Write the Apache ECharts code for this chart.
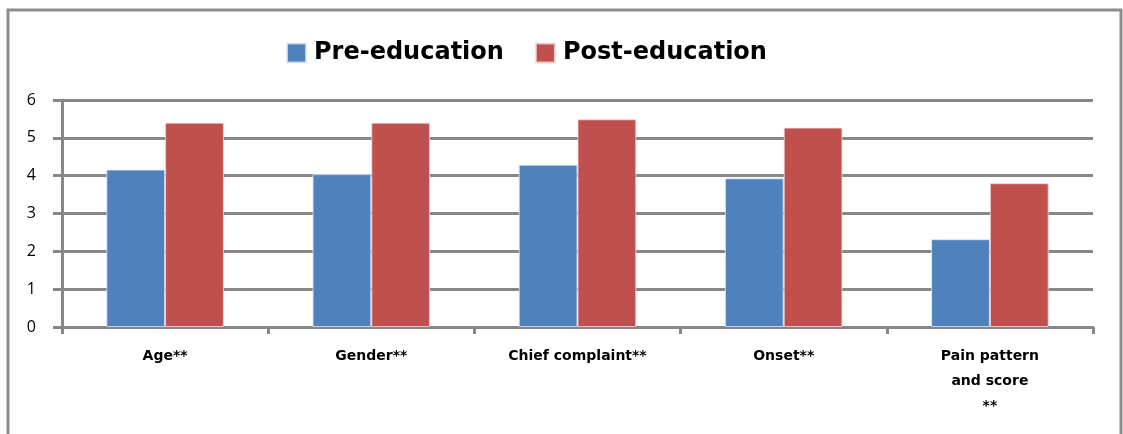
<!DOCTYPE html>
<html>
<head>
<meta charset="utf-8">
<script src="https://cdn.jsdelivr.net/npm/echarts@6/dist/echarts.min.js"></script>
<style>
  html, body { margin: 0; padding: 0; background: #fff; }
  #chart { width: 1123px; height: 434px; }
</style>
</head>
<body>
<div id="chart"></div>
<script>
// History-taking items scored before and after the education session
const categories = ['Age**', 'Gender**', 'Chief complaint**', 'Onset**', 'Pain pattern\nand score\n**'];
const preEducation = [4.16, 4.04, 4.29, 3.93, 2.32];
const postEducation = [5.40, 5.40, 5.49, 5.27, 3.80];
const yTicks = { min: 0, max: 6, interval: 1 };

const gray = '#878787';
const chart = echarts.init(document.getElementById('chart'));

chart.setOption({
  animation: false,
  backgroundColor: '#fff',
  graphic: [{
    type: 'rect',
    shape: { x: 8, y: 10, width: 1113, height: 440 },
    style: { fill: 'none', stroke: '#8c8c8c', lineWidth: 3 },
    silent: true
  }],
  legend: {
    left: 281,
    top: 36,
    itemWidth: 19,
    itemHeight: 19,
    itemGap: 31,
    icon: 'rect',
    textStyle: {
      fontFamily: 'DejaVu Sans',
      fontWeight: 'bold',
      fontSize: 24,
      color: '#000',
      padding: [0, 0, 0, 3]
    },
    data: ['Pre-education', 'Post-education']
  },
  grid: { left: 62, right: 30, top: 100, bottom: 107, containLabel: false },
  xAxis: {
    type: 'category',
    data: categories,
    axisLine: { show: true, lineStyle: { color: gray, width: 3 } },
    axisTick: { show: true, length: 7, lineStyle: { color: gray, width: 3 } },
    axisLabel: {
      interval: 0,
      margin: 17,
      fontFamily: 'DejaVu Sans',
      fontWeight: 'bold',
      fontSize: 14,
      lineHeight: 25,
      color: '#000'
    }
  },
  yAxis: {
    type: 'value',
    min: yTicks.min,
    max: yTicks.max,
    interval: yTicks.interval,
    axisLine: { show: true, lineStyle: { color: gray, width: 3 } },
    axisTick: { show: true, length: 9, lineStyle: { color: gray, width: 3 } },
    axisLabel: {
      margin: 26,
      fontFamily: 'Open Sans',
      fontSize: 16,
      color: '#000'
    },
    splitLine: { show: true, lineStyle: { color: gray, width: 3 } }
  },
  series: [
    {
      name: 'Pre-education',
      type: 'bar',
      data: preEducation,
      barGap: '0%',
      barCategoryGap: '43%',
      itemStyle: { color: '#4F81BD', borderColor: 'rgba(220,230,245,0.8)', borderWidth: 1 }
    },
    {
      name: 'Post-education',
      type: 'bar',
      data: postEducation,
      barGap: '0%',
      barCategoryGap: '43%',
      itemStyle: { color: '#C0504D', borderColor: 'rgba(245,215,215,0.8)', borderWidth: 1 }
    }
  ]
});
</script>
</body>
</html>
